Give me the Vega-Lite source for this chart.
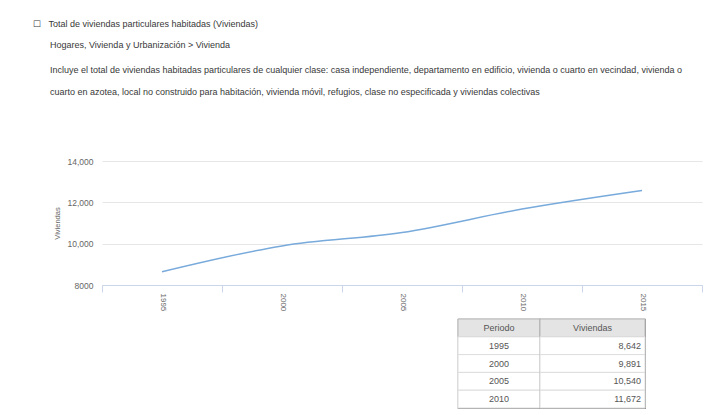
{
  "$schema": "https://vega.github.io/schema/vega-lite/v6.json",
  "background": "white",
  "padding": {"left": 33, "top": 20, "right": 0, "bottom": 0},
  "config": {
    "font": "Liberation Sans",
    "view": {"stroke": null}
  },
  "datasets": {
    "serie": [
      {"Periodo": 1995, "Viviendas": 8642},
      {"Periodo": 2000, "Viviendas": 9891},
      {"Periodo": 2005, "Viviendas": 10540},
      {"Periodo": 2010, "Viviendas": 11672},
      {"Periodo": 2015, "Viviendas": 12570}
    ]
  },
  "spacing": 6,
  "vconcat": [
    {
      "title": {
        "text": [
          "☐\u00a0\u00a0\u00a0Total de viviendas particulares habitadas (Viviendas)",
          "\u2800\u00a0\u00a0\u00a0\u00a0Hogares, Vivienda y Urbanización > Vivienda"
        ],
        "subtitle": [
          "\u2800\u00a0\u00a0\u00a0\u00a0Incluye el total de viviendas habitadas particulares de cualquier clase: casa independiente, departamento en edificio, vivienda o cuarto en vecindad, vivienda o",
          "\u2800\u00a0\u00a0\u00a0\u00a0cuarto en azotea, local no construido para habitación, vivienda móvil, refugios, clase no especificada y viviendas colectivas"
        ],
        "anchor": "start",
        "frame": "bounds",
        "dx": -20,
        "font": "Liberation Sans",
        "fontSize": 9,
        "fontWeight": "normal",
        "color": "#383838",
        "lineHeight": 21,
        "subtitleFont": "Liberation Sans",
        "subtitleFontSize": 9,
        "subtitleColor": "#383838",
        "subtitleLineHeight": 22,
        "subtitlePadding": 16,
        "offset": 60
      },
      "width": 600,
      "height": 124,
      "data": {"name": "serie"},
      "mark": {"type": "line", "interpolate": "monotone", "color": "#78aadb", "strokeWidth": 1.5},
      "encoding": {
        "x": {
          "field": "Periodo",
          "type": "ordinal",
          "scale": {"type": "band", "paddingInner": 0, "paddingOuter": 0},
          "axis": {
            "title": null,
            "labelAngle": 90,
            "tickBand": "extent",
            "domainColor": "#ccd6eb",
            "tickColor": "#ccd6eb",
            "tickSize": 7,
            "labelPadding": 1,
            "labelFontSize": 8,
            "labelColor": "#666666",
            "grid": false
          }
        },
        "y": {
          "field": "Viviendas",
          "type": "quantitative",
          "scale": {"domain": [8000, 14000], "zero": false},
          "axis": {
            "values": [8000, 10000, 12000, 14000],
            "labelExpr": "datum.value >= 10000 ? format(datum.value, ',') : format(datum.value, 'd')",
            "domain": false,
            "ticks": false,
            "gridColor": "#e6e6e6",
            "labelPadding": 9,
            "labelFontSize": 8.5,
            "labelColor": "#666666",
            "title": "Viviendas",
            "titleFontSize": 7.5,
            "titleFontWeight": "normal",
            "titleColor": "#666666",
            "titlePadding": 6
          }
        }
      }
    },
    {
      "spacing": 0,
      "bounds": "flush",
      "hconcat": [
        {
          "width": 356,
          "height": 89,
          "data": {"values": []},
          "mark": "text",
          "encoding": {}
        },
        {
          "width": 82,
          "height": 89,
          "view": {"stroke": "#8a8a8a", "strokeWidth": 1.2},
          "layer": [
            {
              "data": {"values": [{"columna": "Periodo"}]},
              "mark": {"type": "rect", "fill": "#e4e4e4", "stroke": "#b8b8b8"},
              "encoding": {
                "y": {
                  "datum": "encabezado",
                  "type": "ordinal",
                  "scale": {"domain": ["encabezado", 1995, 2000, 2005, 2010], "paddingInner": 0, "paddingOuter": 0},
                  "axis": null
                }
              }
            },
            {
              "data": {"name": "serie"},
              "transform": [{"filter": "datum.Periodo <= 2010"}],
              "mark": {"type": "rect", "fill": "white", "stroke": "#dddddd"},
              "encoding": {"y": {"field": "Periodo", "type": "ordinal"}}
            },
            {
              "data": {"values": [{"columna": "Periodo"}]},
              "mark": {"type": "text", "fontSize": 9, "color": "#555555"},
              "encoding": {
                "y": {"datum": "encabezado", "type": "ordinal"},
                "text": {"field": "columna"}
              }
            },
            {
              "data": {"name": "serie"},
              "transform": [{"filter": "datum.Periodo <= 2010"}],
              "mark": {"type": "text", "fontSize": 9, "color": "#555555"},
              "encoding": {
                "y": {"field": "Periodo", "type": "ordinal"},
                "text": {"field": "Periodo", "type": "nominal"}
              }
            }
          ]
        },
        {
          "width": 105,
          "height": 89,
          "view": {"stroke": "#8a8a8a", "strokeWidth": 1.2},
          "layer": [
            {
              "data": {"values": [{"columna": "Viviendas"}]},
              "mark": {"type": "rect", "fill": "#e4e4e4", "stroke": "#b8b8b8"},
              "encoding": {
                "y": {
                  "datum": "encabezado",
                  "type": "ordinal",
                  "scale": {"domain": ["encabezado", 1995, 2000, 2005, 2010], "paddingInner": 0, "paddingOuter": 0},
                  "axis": null
                }
              }
            },
            {
              "data": {"name": "serie"},
              "transform": [{"filter": "datum.Periodo <= 2010"}],
              "mark": {"type": "rect", "fill": "white", "stroke": "#dddddd"},
              "encoding": {"y": {"field": "Periodo", "type": "ordinal"}}
            },
            {
              "data": {"values": [{"columna": "Viviendas"}]},
              "mark": {"type": "text", "fontSize": 9, "color": "#555555"},
              "encoding": {
                "y": {"datum": "encabezado", "type": "ordinal"},
                "text": {"field": "columna"}
              }
            },
            {
              "data": {"name": "serie"},
              "transform": [{"filter": "datum.Periodo <= 2010"}],
              "mark": {"type": "text", "fontSize": 9, "color": "#555555", "align": "right", "dx": -4},
              "encoding": {
                "x": {"value": "width"},
                "y": {"field": "Periodo", "type": "ordinal"},
                "text": {"field": "Viviendas", "type": "quantitative", "format": ","}
              }
            }
          ]
        }
      ]
    }
  ]
}
